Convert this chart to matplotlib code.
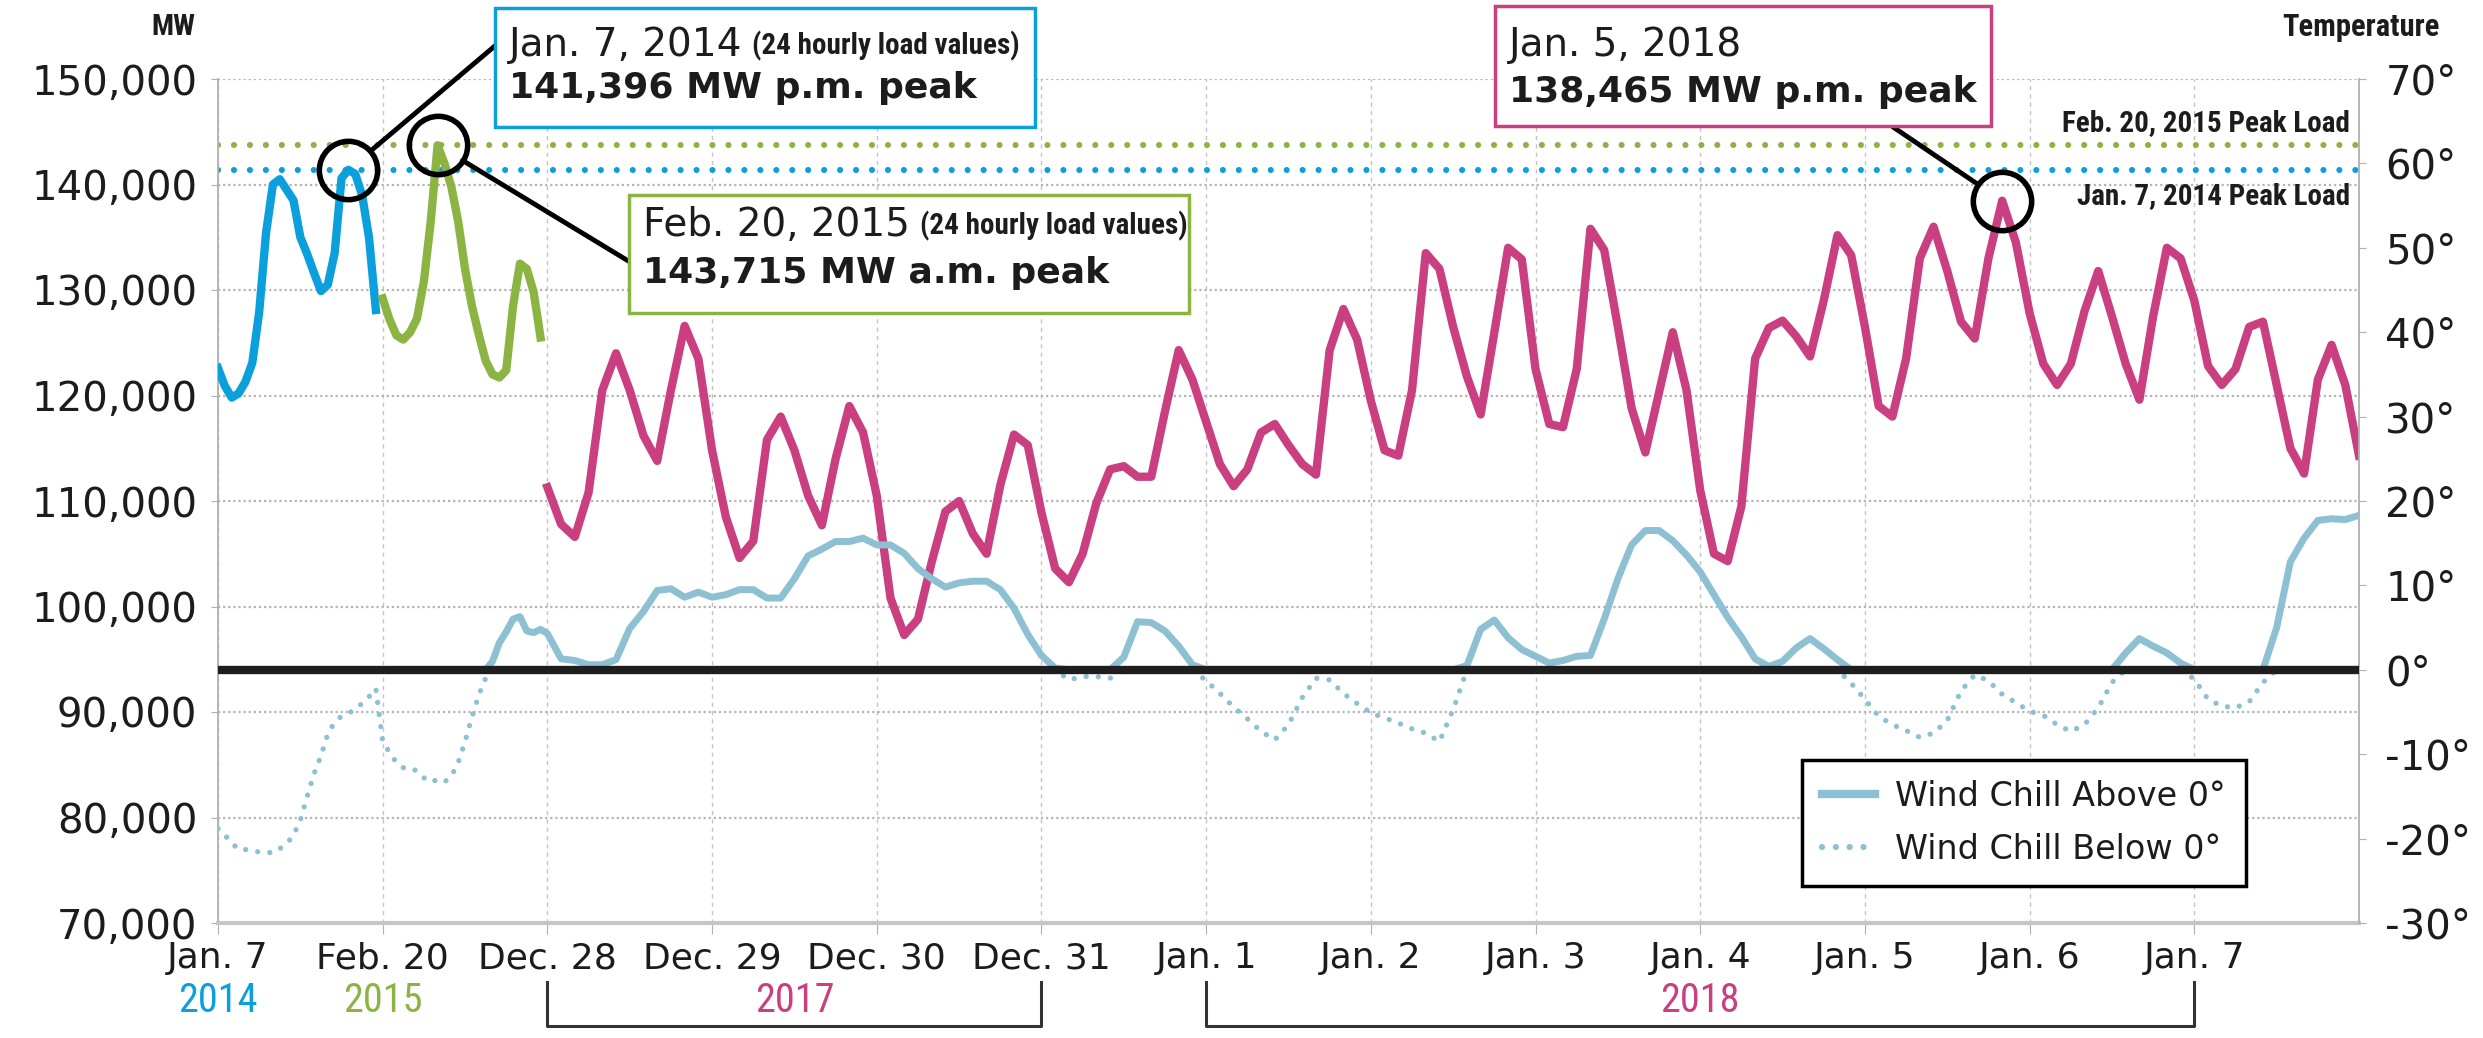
import numpy as np
import matplotlib
matplotlib.use('Agg')
import matplotlib.pyplot as plt
from matplotlib import font_manager
from matplotlib.lines import Line2D
from matplotlib.patches import Rectangle, ConnectionPatch
from matplotlib.text import Annotation
from matplotlib.transforms import blended_transform_factory

# ---------------- data ----------------
day_labels = ['Jan. 7', 'Feb. 20', 'Dec. 28', 'Dec. 29', 'Dec. 30', 'Dec. 31',
              'Jan. 1', 'Jan. 2', 'Jan. 3', 'Jan. 4', 'Jan. 5', 'Jan. 6', 'Jan. 7']

# Jan. 7, 2014 - 24 hourly values (load in thousand MW, wind chill in deg)
load_2014 = [122.6, 120.9, 119.8, 120.2, 121.3, 123.1, 127.9, 135.4, 140.0, 140.5,
             139.5, 138.5, 135.0, 133.4, 131.6, 129.9, 130.5, 133.5, 140.6, 141.396,
             141.0, 139.0, 135.0, 128.1]
temp_2014 = [-18.8, -19.6, -20.5, -21.3, -21.3, -21.4, -21.6, -21.6, -21.7, -21.2,
             -20.6, -19.6, -17.8, -15.0, -12.3, -10.2, -7.6, -6.2, -5.5, -5.2,
             -4.6, -4.0, -3.2, -2.2]

# Feb. 20, 2015 - 24 hourly values
load_2015 = [129.2, 127.2, 125.7, 125.3, 126.0, 127.3, 130.8, 136.5, 143.715, 142.0,
             139.8, 136.5, 132.0, 128.5, 125.8, 123.3, 122.0, 121.7, 122.4, 128.5,
             132.5, 132.0, 129.8, 125.5]
temp_2015 = [-8.5, -9.8, -11.0, -11.6, -11.6, -12.0, -12.8, -13.3, -13.0, -13.3,
             -12.6, -11.0, -8.5, -5.6, -3.0, -1.0, 1.0, 3.2, 4.5, 6.0,
             6.3, 4.6, 4.4, 4.8]

# Dec. 28, 2017 - Jan. 7, 2018, one value every 2 hours (one row per day)
load_1718 = (
    [111.3, 107.8, 106.6, 110.8, 120.5, 124.0, 120.5, 116.2, 113.8, 120.5, 126.6, 123.5]
    + [114.8, 108.5, 104.6, 106.2, 115.8, 118.0, 114.8, 110.5, 107.7, 114.0, 119.0, 116.5]
    + [110.5, 100.8, 97.3, 98.8, 104.2, 109.0, 110.0, 106.9, 105.0, 111.5, 116.3, 115.3]
    + [108.9, 103.6, 102.3, 105.0, 109.8, 113.0, 113.3, 112.3, 112.3, 118.5, 124.3, 121.5]
    + [117.5, 113.5, 111.4, 113.0, 116.5, 117.3, 115.3, 113.5, 112.5, 124.3, 128.2, 125.3]
    + [119.5, 114.8, 114.3, 120.5, 133.5, 132.0, 126.5, 121.8, 118.2, 126.0, 134.0, 132.9]
    + [122.5, 117.3, 117.0, 122.5, 135.8, 133.8, 126.5, 118.8, 114.6, 120.3, 126.0, 120.5]
    + [111.0, 105.0, 104.3, 109.5, 123.5, 126.4, 127.1, 125.6, 123.7, 129.0, 135.2, 133.3]
    + [126.5, 119.0, 118.0, 123.5, 133.0, 136.0, 131.8, 127.0, 125.4, 133.0, 138.465, 134.5]
    + [127.8, 123.0, 121.0, 123.0, 128.0, 131.8, 127.5, 123.0, 119.6, 127.5, 134.0, 133.0]
    + [129.0, 122.8, 121.0, 122.5, 126.5, 127.0, 121.0, 115.0, 112.6, 121.5, 124.8, 121.0]
    + [114.3]
)
temp_1718 = (
    [4.3, 1.3, 1.1, 0.6, 0.6, 1.2, 4.9, 6.9, 9.4, 9.6, 8.6, 9.2]
    + [8.6, 8.9, 9.5, 9.5, 8.5, 8.5, 10.8, 13.5, 14.3, 15.2, 15.2, 15.6]
    + [14.8, 14.8, 13.8, 12.0, 10.8, 9.8, 10.3, 10.5, 10.5, 9.5, 7.3, 4.2]
    + [1.7, 0.2, -1.2, -0.8, -0.8, -1.0, 1.5, 5.7, 5.6, 4.6, 2.8, 0.6]
    + [-1.3, -2.8, -4.4, -5.8, -7.3, -8.3, -6.5, -3.3, -1.0, -1.2, -2.8, -4.0]
    + [-5.1, -5.7, -6.3, -7.0, -7.5, -8.5, -4.7, 0.5, 4.8, 5.9, 3.8, 2.4]
    + [1.6, 0.8, 1.1, 1.6, 1.7, 6.0, 10.8, 14.8, 16.5, 16.5, 15.3, 13.6]
    + [11.6, 8.9, 6.2, 3.9, 1.3, 0.4, 1.0, 2.6, 3.7, 2.5, 1.2, -1.6]
    + [-3.5, -5.5, -6.5, -7.2, -8.0, -7.5, -6.0, -2.5, -0.6, -1.3, -2.9, -3.9]
    + [-4.9, -5.4, -6.5, -7.3, -6.5, -4.5, -1.5, 2.0, 3.7, 2.8, 2.0, 0.8]
    + [-1.1, -3.5, -4.3, -4.5, -3.8, -1.5, 5.0, 12.8, 15.6, 17.7, 17.9, 17.8]
    + [18.3]
)

peak_2014 = 141396
peak_2015 = 143715

# ---------------- style ----------------
BLUE = '#0b9fdb'
GREEN = '#8cb443'
MAGENTA = '#c93f80'
TEMP = '#8dc0d2'
TXT = '#1c1c1c'
GRID = '#b4b4b4'

# pick a condensed sans face if one is installed, else a narrower plain one
pref_names = ['Liberation Sans Narrow', 'Roboto Condensed', 'Noto Sans Condensed',
              'Noto Sans', 'Open Sans Condensed', 'Open Sans',
              'DejaVu Sans Condensed', 'DejaVu Sans']
stretch_rank = {'condensed': 0, 'semi-condensed': 1, 'extra-condensed': 2}
NARROW, STRETCH, NSCALE = 'Liberation Sans', 'normal', 0.84
found = False
for name in pref_names:
    hits = [f for f in font_manager.fontManager.ttflist
            if f.name == name and (f.stretch in stretch_rank
                                   or 'Narrow' in f.name or 'Condensed' in f.name)]
    if hits:
        hits.sort(key=lambda f: stretch_rank.get(f.stretch, 0))
        NARROW, STRETCH, NSCALE = name, hits[0].stretch, 1.0
        found = True
        break

plt.rcParams['font.family'] = ['DejaVu Sans']


def nfont(size, bold=False):
    return dict(family=NARROW, stretch=STRETCH, fontsize=size * NSCALE,
                fontweight='bold' if bold else 'normal')


W, H = 2483, 1038
def fx(px):
    return px / W
def fy(py):
    return 1 - py / H

fig = plt.figure(figsize=(W / 100, H / 100), dpi=100)
ax = fig.add_axes([fx(218), fy(923), fx(2359) - fx(218), fy(79) - fy(923)])
ax2 = ax.twinx()

# x positions: day index + fraction of the day
x_2014 = 0 + np.arange(len(load_2014)) / 24
x_2015 = 1 + np.arange(len(load_2015)) / 24
x_1718 = 2 + np.arange(len(load_1718)) / 12

l14 = np.array(load_2014) * 1000
l15 = np.array(load_2015) * 1000
l1718 = np.array(load_1718) * 1000

ax.plot(x_2014, l14, color=BLUE, lw=6, solid_joinstyle='round', zorder=3)
ax.plot(x_2015, l15, color=GREEN, lw=6, solid_joinstyle='round', zorder=3)
ax.plot(x_1718, l1718, color=MAGENTA, lw=6, solid_joinstyle='round', zorder=3)

# previous record peaks as dotted reference lines
ax.axhline(peak_2015, color=GREEN, lw=4.4, linestyle=(0, (0.01, 2.6)),
           dash_capstyle='round', zorder=2)
ax.axhline(peak_2014, color=BLUE, lw=4.4, linestyle=(0, (0.01, 2.6)),
           dash_capstyle='round', zorder=2)

# wind chill: solid above zero, dotted below zero
xt = np.concatenate([x_2014, x_2015, x_1718])
tt = np.array(temp_2014 + temp_2015 + temp_1718)
ax2.plot(xt, np.maximum(tt, 0), color=TEMP, lw=5, solid_joinstyle='round', zorder=2)
ax2.plot(xt, np.minimum(tt, 0), color=TEMP, lw=3.8, linestyle=(0, (0.01, 2.3)),
         dash_capstyle='round', zorder=2)
ax2.axhline(0, color='#1e1e1e', lw=6, zorder=3)

# axes
ax.set_xlim(0, 13)
ax.set_ylim(70000, 150000)
ax2.set_ylim(-30, 70)
ax.set_xticks(range(len(day_labels)))
ax.set_xticklabels(day_labels)
yt = list(range(70000, 150001, 10000))
ax.set_yticks(yt)
ax.set_yticklabels([f'{v:,}' for v in yt])
tt_ticks = list(range(-30, 71, 10))
ax2.set_yticks(tt_ticks)
ax2.set_yticklabels([f'{v}\u00b0' for v in tt_ticks])

ax.grid(axis='y', color=GRID, linestyle=(0, (1, 1.3)), lw=1.6)
ax.grid(axis='x', color='#c4c4c4', linestyle=(0, (3, 3)), lw=1.0)
ax.set_axisbelow(True)

for s in ['top', 'right']:
    ax.spines[s].set_visible(False)
for s in ['top', 'left', 'bottom']:
    ax2.spines[s].set_visible(False)
ax.spines['left'].set_color('#b0b0b0')
ax.spines['left'].set_linewidth(1.3)
ax.spines['bottom'].set_color('#c6c6c6')
ax.spines['bottom'].set_linewidth(3)
ax2.spines['right'].set_color('#b0b0b0')
ax2.spines['right'].set_linewidth(1.3)

ax.tick_params(axis='x', length=8, color='#b0b0b0', labelsize=26, labelcolor=TXT, pad=5)
ax.tick_params(axis='y', length=5, color='#b0b0b0', labelsize=29, labelcolor=TXT, pad=10)
ax2.tick_params(axis='y', length=5, color='#b0b0b0', labelsize=29, labelcolor=TXT, pad=14)

# peak circles
for xs, ys in [(x_2014, l14), (x_2015, l15), (x_1718, l1718)]:
    i = int(np.argmax(ys))
    ax.plot(xs[i], ys[i], 'o', ms=42, mfc='none', mec='black', mew=4, zorder=6)

# axis titles and reference line labels
fig.text(fx(195), fy(27), 'MW', ha='right', va='center', color=TXT, **nfont(21, True))
fig.text(fx(2440), fy(27), 'Temperature', ha='right', va='center', color=TXT,
         **nfont(22, True))
fig.text(fx(2350), fy(123), 'Feb. 20, 2015 Peak Load', ha='right', va='center',
         color=TXT, **nfont(21, True))
fig.text(fx(2350), fy(196), 'Jan. 7, 2014 Peak Load', ha='right', va='center',
         color=TXT, **nfont(21, True))

# year labels and brackets under the axis
bt = blended_transform_factory(ax.transData, ax.transAxes)
for xpos, label, color in [(0, '2014', BLUE), (1, '2015', GREEN),
                           (3.5, '2017', MAGENTA), (9, '2018', MAGENTA)]:
    ax.text(xpos, -0.092, label, transform=bt, ha='center', va='center', color=color,
            **nfont(29))
for a, b in [(2, 5), (6, 12)]:
    ax.plot([a, a, b, b], [-0.070, -0.122, -0.122, -0.070], transform=bt,
            color='#333333', lw=2.2, clip_on=False)


# annotation boxes
def note(box, color, line1, suffix, line2, y1, y2, anchor, target):
    x0, y0, x1, y1b = box
    fig.add_artist(Rectangle((fx(x0), fy(y1b)), fx(x1) - fx(x0), fy(y0) - fy(y1b),
                             transform=fig.transFigure, facecolor='white',
                             edgecolor=color, lw=2.5, zorder=10))
    t1 = fig.text(fx(x0 + 14), fy(y1), line1, ha='left', va='center', fontsize=28,
                  color=TXT, zorder=11)
    if suffix:
        a = Annotation(suffix, xy=(1, 0), xycoords=t1, xytext=(7, 2),
                       textcoords='offset points', ha='left', va='bottom',
                       color=TXT, zorder=11, **nfont(21, True))
        fig.add_artist(a)
    fig.text(fx(x0 + 14), fy(y2), line2, ha='left', va='center', fontsize=26,
             fontweight='bold', color=TXT, zorder=11)
    con = ConnectionPatch(xyA=(fx(anchor[0]), fy(anchor[1])), coordsA=fig.transFigure,
                          xyB=target, coordsB=ax.transData, color='black', lw=3.5,
                          shrinkB=21, zorder=9)
    fig.add_artist(con)


i14 = int(np.argmax(l14))
i15 = int(np.argmax(l15))
i18 = int(np.argmax(l1718))
note((495, 8, 1035, 127), BLUE, 'Jan. 7, 2014', '(24 hourly load values)',
     f'{int(l14[i14]):,} MW p.m. peak', 45, 88, (496, 45), (x_2014[i14], l14[i14]))
note((629, 195, 1189, 313), GREEN, 'Feb. 20, 2015', '(24 hourly load values)',
     f'{int(l15[i15]):,} MW a.m. peak', 225, 273, (630, 262), (x_2015[i15], l15[i15]))
note((1495, 6, 1991, 126), MAGENTA, 'Jan. 5, 2018', None,
     f'{int(round(l1718[i18])):,} MW p.m. peak', 45, 92, (1893, 127),
     (x_1718[i18], l1718[i18]))

# legend
handles = [Line2D([], [], color=TEMP, lw=6),
           Line2D([], [], color=TEMP, lw=4.5, linestyle=(0, (0.01, 2.2)),
                  dash_capstyle='round')]
leg = ax2.legend(handles, ['Wind Chill Above 0\u00b0', 'Wind Chill Below 0\u00b0'],
                 loc='upper left', bbox_to_anchor=(fx(1802), fy(760)),
                 bbox_transform=fig.transFigure, borderaxespad=0, fontsize=24,
                 frameon=True, fancybox=False, framealpha=1, edgecolor='black',
                 handlelength=1.6, handletextpad=0.6, labelspacing=0.6, borderpad=0.6)
leg.get_frame().set_linewidth(2.5)
for t in leg.get_texts():
    t.set_color(TXT)

fig.savefig('out.png', dpi=100)
